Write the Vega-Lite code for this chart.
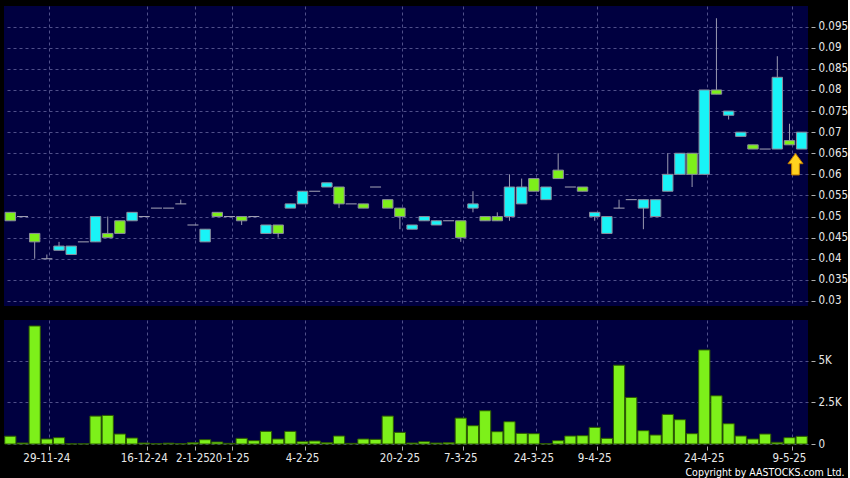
{
  "$schema": "https://vega.github.io/schema/vega-lite/v6.json",
  "background": "#000000",
  "padding": {"left": 4, "top": 6, "right": 0, "bottom": 0},
  "config": {
    "view": {"stroke": null, "fill": "#000040"},
    "font": "DejaVu Sans Condensed",
    "axis": {
      "labelColor": "#e8e8e8",
      "labelFont": "DejaVu Sans Condensed",
      "labelFontSize": 11.5,
      "tickColor": "#b0b0b0",
      "domain": false,
      "gridColor": "#50508a",
      "gridDash": [3, 3],
      "gridWidth": 1,
      "labelOverlap": false,
      "title": null
    }
  },
  "title": {
    "text": "Copyright by AASTOCKS.com Ltd.",
    "orient": "bottom",
    "anchor": "end",
    "frame": "bounds",
    "color": "#ffffff",
    "font": "DejaVu Sans Condensed",
    "fontSize": 10.5,
    "fontWeight": "normal",
    "offset": 4,
    "dx": -3
  },
  "datasets": {
    "k": [
      {"d": "26-11-24", "o": 0.051, "h": 0.051, "l": 0.049, "c": 0.049, "v": 470},
      {"d": "27-11-24", "o": 0.050, "h": 0.050, "l": 0.050, "c": 0.050, "v": 60},
      {"d": "28-11-24", "o": 0.046, "h": 0.046, "l": 0.040, "c": 0.044, "v": 7100},
      {"d": "29-11-24", "o": 0.040, "h": 0.041, "l": 0.040, "c": 0.040, "v": 300},
      {"d": "3-12-24", "o": 0.042, "h": 0.044, "l": 0.042, "c": 0.043, "v": 380},
      {"d": "4-12-24", "o": 0.041, "h": 0.043, "l": 0.041, "c": 0.043, "v": 10},
      {"d": "5-12-24", "o": 0.044, "h": 0.044, "l": 0.044, "c": 0.044, "v": 10},
      {"d": "6-12-24", "o": 0.044, "h": 0.050, "l": 0.044, "c": 0.050, "v": 1680},
      {"d": "9-12-24", "o": 0.046, "h": 0.050, "l": 0.045, "c": 0.045, "v": 1720},
      {"d": "11-12-24", "o": 0.049, "h": 0.049, "l": 0.046, "c": 0.046, "v": 600},
      {"d": "13-12-24", "o": 0.049, "h": 0.051, "l": 0.049, "c": 0.051, "v": 360},
      {"d": "16-12-24", "o": 0.050, "h": 0.050, "l": 0.050, "c": 0.050, "v": 60},
      {"d": "18-12-24", "o": 0.052, "h": 0.052, "l": 0.052, "c": 0.052, "v": 20},
      {"d": "20-12-24", "o": 0.052, "h": 0.052, "l": 0.052, "c": 0.052, "v": 50},
      {"d": "27-12-24", "o": 0.053, "h": 0.054, "l": 0.053, "c": 0.053, "v": 20},
      {"d": "2-1-25", "o": 0.048, "h": 0.048, "l": 0.048, "c": 0.048, "v": 80},
      {"d": "8-1-25", "o": 0.044, "h": 0.047, "l": 0.044, "c": 0.047, "v": 260},
      {"d": "14-1-25", "o": 0.051, "h": 0.051, "l": 0.050, "c": 0.050, "v": 120},
      {"d": "20-1-25", "o": 0.050, "h": 0.050, "l": 0.050, "c": 0.050, "v": 40},
      {"d": "21-1-25", "o": 0.050, "h": 0.050, "l": 0.048, "c": 0.049, "v": 340},
      {"d": "23-1-25", "o": 0.050, "h": 0.050, "l": 0.050, "c": 0.050, "v": 200},
      {"d": "24-1-25", "o": 0.046, "h": 0.048, "l": 0.046, "c": 0.048, "v": 760},
      {"d": "27-1-25", "o": 0.048, "h": 0.048, "l": 0.045, "c": 0.046, "v": 300},
      {"d": "3-2-25", "o": 0.052, "h": 0.053, "l": 0.052, "c": 0.053, "v": 760},
      {"d": "4-2-25", "o": 0.053, "h": 0.056, "l": 0.053, "c": 0.056, "v": 140},
      {"d": "5-2-25", "o": 0.056, "h": 0.056, "l": 0.056, "c": 0.056, "v": 180},
      {"d": "6-2-25", "o": 0.057, "h": 0.058, "l": 0.057, "c": 0.058, "v": 80},
      {"d": "7-2-25", "o": 0.057, "h": 0.057, "l": 0.052, "c": 0.053, "v": 480},
      {"d": "10-2-25", "o": 0.053, "h": 0.053, "l": 0.053, "c": 0.053, "v": 40},
      {"d": "12-2-25", "o": 0.053, "h": 0.053, "l": 0.052, "c": 0.052, "v": 300},
      {"d": "14-2-25", "o": 0.057, "h": 0.057, "l": 0.057, "c": 0.057, "v": 280},
      {"d": "18-2-25", "o": 0.054, "h": 0.054, "l": 0.052, "c": 0.052, "v": 1680},
      {"d": "20-2-25", "o": 0.052, "h": 0.052, "l": 0.047, "c": 0.050, "v": 700},
      {"d": "24-2-25", "o": 0.047, "h": 0.048, "l": 0.047, "c": 0.048, "v": 60},
      {"d": "26-2-25", "o": 0.049, "h": 0.050, "l": 0.049, "c": 0.050, "v": 140},
      {"d": "28-2-25", "o": 0.048, "h": 0.049, "l": 0.048, "c": 0.049, "v": 60},
      {"d": "4-3-25", "o": 0.049, "h": 0.049, "l": 0.049, "c": 0.049, "v": 80},
      {"d": "7-3-25", "o": 0.049, "h": 0.049, "l": 0.044, "c": 0.045, "v": 1560},
      {"d": "10-3-25", "o": 0.052, "h": 0.056, "l": 0.051, "c": 0.053, "v": 1100},
      {"d": "11-3-25", "o": 0.050, "h": 0.050, "l": 0.049, "c": 0.049, "v": 2000},
      {"d": "13-3-25", "o": 0.050, "h": 0.051, "l": 0.049, "c": 0.049, "v": 740},
      {"d": "14-3-25", "o": 0.050, "h": 0.060, "l": 0.049, "c": 0.057, "v": 1340},
      {"d": "18-3-25", "o": 0.053, "h": 0.059, "l": 0.053, "c": 0.057, "v": 640},
      {"d": "24-3-25", "o": 0.059, "h": 0.059, "l": 0.056, "c": 0.056, "v": 620},
      {"d": "27-3-25", "o": 0.054, "h": 0.057, "l": 0.054, "c": 0.057, "v": 20},
      {"d": "31-3-25", "o": 0.061, "h": 0.065, "l": 0.059, "c": 0.059, "v": 200},
      {"d": "2-4-25", "o": 0.057, "h": 0.057, "l": 0.057, "c": 0.057, "v": 480},
      {"d": "3-4-25", "o": 0.057, "h": 0.057, "l": 0.056, "c": 0.056, "v": 500},
      {"d": "9-4-25", "o": 0.050, "h": 0.051, "l": 0.049, "c": 0.051, "v": 1000},
      {"d": "10-4-25", "o": 0.046, "h": 0.050, "l": 0.046, "c": 0.050, "v": 340},
      {"d": "11-4-25", "o": 0.052, "h": 0.054, "l": 0.052, "c": 0.052, "v": 4740},
      {"d": "14-4-25", "o": 0.054, "h": 0.054, "l": 0.054, "c": 0.054, "v": 2800},
      {"d": "15-4-25", "o": 0.052, "h": 0.054, "l": 0.047, "c": 0.054, "v": 800},
      {"d": "16-4-25", "o": 0.050, "h": 0.054, "l": 0.050, "c": 0.054, "v": 540},
      {"d": "17-4-25", "o": 0.056, "h": 0.065, "l": 0.056, "c": 0.060, "v": 1780},
      {"d": "22-4-25", "o": 0.060, "h": 0.065, "l": 0.060, "c": 0.065, "v": 1460},
      {"d": "23-4-25", "o": 0.065, "h": 0.065, "l": 0.057, "c": 0.060, "v": 620},
      {"d": "24-4-25", "o": 0.060, "h": 0.080, "l": 0.060, "c": 0.080, "v": 5660},
      {"d": "25-4-25", "o": 0.080, "h": 0.097, "l": 0.079, "c": 0.079, "v": 2900},
      {"d": "28-4-25", "o": 0.074, "h": 0.075, "l": 0.073, "c": 0.075, "v": 1220},
      {"d": "29-4-25", "o": 0.069, "h": 0.070, "l": 0.069, "c": 0.070, "v": 480},
      {"d": "30-4-25", "o": 0.067, "h": 0.067, "l": 0.066, "c": 0.066, "v": 300},
      {"d": "2-5-25", "o": 0.066, "h": 0.066, "l": 0.066, "c": 0.066, "v": 600},
      {"d": "6-5-25", "o": 0.066, "h": 0.088, "l": 0.066, "c": 0.083, "v": 100},
      {"d": "9-5-25", "o": 0.068, "h": 0.072, "l": 0.067, "c": 0.067, "v": 380, "arrow": 0.0624},
      {"d": "12-5-25", "o": 0.066, "h": 0.070, "l": 0.066, "c": 0.070, "v": 460}
    ]
  },
  "spacing": 13,
  "vconcat": [
    {
      "width": 804,
      "height": 300,
      "data": {"name": "k"},
      "encoding": {
        "x": {
          "field": "d",
          "type": "ordinal",
          "sort": null,
          "scale": {
            "domain": [
              "26-11-24", "27-11-24", "28-11-24", "29-11-24", "3-12-24", "4-12-24", "5-12-24", "6-12-24", "9-12-24", "11-12-24",
              "13-12-24", "16-12-24", "18-12-24", "20-12-24", "27-12-24", "2-1-25", "8-1-25", "14-1-25", "20-1-25", "21-1-25",
              "23-1-25", "24-1-25", "27-1-25", "3-2-25", "4-2-25", "5-2-25", "6-2-25", "7-2-25", "10-2-25", "12-2-25",
              "14-2-25", "18-2-25", "20-2-25", "24-2-25", "26-2-25", "28-2-25", "4-3-25", "7-3-25", "10-3-25", "11-3-25",
              "13-3-25", "14-3-25", "18-3-25", "24-3-25", "27-3-25", "31-3-25", "2-4-25", "3-4-25", "9-4-25", "10-4-25",
              "11-4-25", "14-4-25", "15-4-25", "16-4-25", "17-4-25", "22-4-25", "23-4-25", "24-4-25", "25-4-25", "28-4-25",
              "29-4-25", "30-4-25", "2-5-25", "6-5-25", "9-5-25", "12-5-25"
            ],
            "paddingInner": 0.08,
            "paddingOuter": 0.06
          },
          "axis": {
            "values": ["29-11-24", "16-12-24", "2-1-25", "20-1-25", "4-2-25", "20-2-25", "7-3-25", "24-3-25", "9-4-25", "24-4-25", "9-5-25"],
            "labels": false,
            "ticks": false,
            "grid": true,
            "bandPosition": 0.75
          }
        }
      },
      "layer": [
        {
          "mark": {"type": "rule", "color": "#9a9ab0", "strokeWidth": 1},
          "encoding": {
            "y": {
              "field": "l",
              "type": "quantitative",
              "scale": {"domain": [0.0288, 0.0999], "zero": false, "nice": false},
              "axis": {
                "orient": "right",
                "values": [0.03, 0.035, 0.04, 0.045, 0.05, 0.055, 0.06, 0.065, 0.07, 0.075, 0.08, 0.085, 0.09, 0.095],
                "format": ".3~f",
                "labelOverlap": false,
                "grid": true,
                "offset": 3,
                "tickSize": 4,
                "labelPadding": 3
              }
            },
            "y2": {"field": "h"}
          }
        },
        {
          "mark": {"type": "bar", "width": {"band": 0.93}, "stroke": "#8c8c9c", "strokeWidth": 1},
          "encoding": {
            "y": {
              "field": "o",
              "type": "quantitative",
              "axis": {
                "orient": "right",
                "values": [0.03, 0.035, 0.04, 0.045, 0.05, 0.055, 0.06, 0.065, 0.07, 0.075, 0.08, 0.085, 0.09, 0.095],
                "format": ".3~f",
                "labelOverlap": false,
                "grid": true,
                "offset": 3,
                "tickSize": 4,
                "labelPadding": 3
              }
            },
            "y2": {"field": "c"},
            "color": {
              "condition": {"test": "datum.c > datum.o", "value": "#19f3f7"},
              "value": "#7df01a"
            },
            "opacity": {"condition": {"test": "datum.o == datum.c", "value": 0}, "value": 1}
          }
        },
        {
          "mark": {"type": "tick", "color": "#a8a8b8", "thickness": 1, "size": 11},
          "encoding": {
            "y": {
              "field": "o",
              "type": "quantitative",
              "axis": {
                "orient": "right",
                "values": [0.03, 0.035, 0.04, 0.045, 0.05, 0.055, 0.06, 0.065, 0.07, 0.075, 0.08, 0.085, 0.09, 0.095],
                "format": ".3~f",
                "labelOverlap": false,
                "grid": true,
                "offset": 3,
                "tickSize": 4,
                "labelPadding": 3
              }
            },
            "opacity": {"condition": {"test": "datum.o == datum.c", "value": 1}, "value": 0}
          }
        },
        {
          "mark": {
            "type": "point",
            "shape": "M0,-1 L0.7,-0.05 L0.36,-0.05 L0.36,1 L-0.36,1 L-0.36,-0.05 L-0.7,-0.05 Z",
            "size": 460,
            "filled": true,
            "fill": "#ffd21f",
            "stroke": "#c07a00",
            "strokeWidth": 1,
            "opacity": 1,
            "xOffset": 6
          },
          "encoding": {
            "y": {
              "field": "arrow",
              "type": "quantitative",
              "axis": {
                "orient": "right",
                "values": [0.03, 0.035, 0.04, 0.045, 0.05, 0.055, 0.06, 0.065, 0.07, 0.075, 0.08, 0.085, 0.09, 0.095],
                "format": ".3~f",
                "labelOverlap": false,
                "grid": true,
                "offset": 3,
                "tickSize": 4,
                "labelPadding": 3
              }
            }
          }
        }
      ]
    },
    {
      "width": 804,
      "height": 124,
      "data": {"name": "k"},
      "mark": {"type": "bar", "width": {"band": 1}, "fill": "#7df01a", "stroke": "#2d5a00", "strokeWidth": 1},
      "encoding": {
        "x": {
          "field": "d",
          "type": "ordinal",
          "sort": null,
          "scale": {
            "domain": [
              "26-11-24", "27-11-24", "28-11-24", "29-11-24", "3-12-24", "4-12-24", "5-12-24", "6-12-24", "9-12-24", "11-12-24",
              "13-12-24", "16-12-24", "18-12-24", "20-12-24", "27-12-24", "2-1-25", "8-1-25", "14-1-25", "20-1-25", "21-1-25",
              "23-1-25", "24-1-25", "27-1-25", "3-2-25", "4-2-25", "5-2-25", "6-2-25", "7-2-25", "10-2-25", "12-2-25",
              "14-2-25", "18-2-25", "20-2-25", "24-2-25", "26-2-25", "28-2-25", "4-3-25", "7-3-25", "10-3-25", "11-3-25",
              "13-3-25", "14-3-25", "18-3-25", "24-3-25", "27-3-25", "31-3-25", "2-4-25", "3-4-25", "9-4-25", "10-4-25",
              "11-4-25", "14-4-25", "15-4-25", "16-4-25", "17-4-25", "22-4-25", "23-4-25", "24-4-25", "25-4-25", "28-4-25",
              "29-4-25", "30-4-25", "2-5-25", "6-5-25", "9-5-25", "12-5-25"
            ],
            "paddingInner": 0.08,
            "paddingOuter": 0.06
          },
          "axis": {
            "values": ["29-11-24", "16-12-24", "2-1-25", "20-1-25", "4-2-25", "20-2-25", "7-3-25", "24-3-25", "9-4-25", "24-4-25", "9-5-25"],
            "labels": true,
            "labelAngle": 0,
            "ticks": true,
            "tickSize": 4,
            "offset": 2,
            "labelPadding": 2,
            "grid": true,
            "bandPosition": 0.75
          }
        },
        "y": {
          "field": "v",
          "type": "quantitative",
          "scale": {"domain": [0, 7460], "nice": false},
          "axis": {
            "orient": "right",
            "values": [0, 2500, 5000],
            "labelExpr": "replace(format(datum.value, '~s'), 'k', 'K')",
            "grid": true,
            "offset": 3,
            "tickSize": 4,
            "labelPadding": 3
          }
        }
      }
    }
  ]
}
